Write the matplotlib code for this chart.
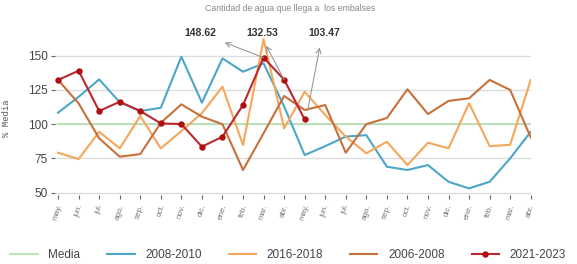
import matplotlib.pyplot as plt
from matplotlib.transforms import ScaledTranslation

plt.rcParams["font.family"] = ["Liberation Sans", "DejaVu Sans"]

# Data
months = ["may.", "jun.", "jul.", "ago.", "sep.", "oct.", "nov.", "dic.",
          "ene.", "feb.", "mar.", "abr."] * 2
media = [100] * 24
s0810 = [108.4, 120, 132.7, 116, 109.6, 112, 149.3, 115.7, 148, 138.3, 144.4, 113,
         77.5, 84, 91, 92, 69, 66.6, 70.2, 58, 53.2, 58, 75.1, 94.5]
s1618 = [79.2, 74.6, 94.5, 82.4, 106, 82.4, 95, 108, 127.4, 84.8, 162, 97,
         123.7, 106.7, 91, 78.8, 87.2, 70.2, 86.5, 82.4, 115.3, 84, 85, 132.3]
s0608 = [132.3, 115.2, 89.7, 76.3, 78.2, 101, 114.5, 105.5, 100, 66.6, 93.4, 120.6,
         110.4, 114, 79.2, 100.1, 104.5, 125.5, 107.4, 117, 118.9, 132.3, 125, 90.4]
s2123 = [132.3, 139, 109.6, 116.4, 109.6, 100.6, 100.1, 83.6, 90.9, 114,
         148.62, 132.53, 103.47]

# annotated points: index, (text offset px), (arrow start px), (arrow tip px)
notes = [(10, (-63, 25), (0, 0), (-39, 15)),
         (11, (-22, 47), (0, 0), (-18, 34)),
         (12, (20, 86), (3, 9), (15, 72))]

x = list(range(24))

fig = plt.figure(figsize=(5.77, 2.64), dpi=100)
ax = fig.add_axes([0.0953, 0.261, 0.8245, 0.606])

ax.plot(x, media, color="#b5e0b3", lw=1.3, label="Media")
ax.plot(x, s0810, color="#4ba6c8", lw=1.5, label="2008-2010")
ax.plot(x, s1618, color="#f5a65b", lw=1.5, label="2016-2018")
ax.plot(x, s0608, color="#c8703c", lw=1.5, label="2006-2008")
ax.plot(x[:len(s2123)], s2123, color="#b82a30", lw=1.5, marker="o", ms=3.6,
        mfc="#b00f12", mec="#b00f12", label="2021-2023")

ax.set_xlim(-0.15, 23)
ax.set_ylim(48.3, 165)
ax.set_yticks([50, 75, 100, 125, 150])
ax.set_xticks(x)
ax.set_xticklabels(months, rotation=72, fontsize=5.8, color="#777777",
                   ha="center", va="top")
ax.tick_params(axis="y", labelsize=8.5, labelcolor="#444444", color="#666666",
               length=3, width=0.8, pad=2)
ax.tick_params(axis="x", color="#666666", length=3, width=0.8, pad=3)
ax.grid(axis="y", color="#dddddd", lw=1)
ax.set_axisbelow(True)
for s in ax.spines.values():
    s.set_visible(False)

ax.set_ylabel("% Media", family="Liberation Mono", fontsize=6.5, color="#555555")
ax.yaxis.set_label_coords(-0.0925, 0.48)

fig.suptitle("Cantidad de agua que llega a  los embalses", fontsize=6.3,
             color="#888888", x=0.503, y=0.985, va="top")

# value labels with arrows
for i, toff, soff, hoff in notes:
    def shift(off):
        return ax.transData + ScaledTranslation(off[0] / 100, off[1] / 100,
                                                fig.dpi_scale_trans)
    ax.text(i, s2123[i], f"{s2123[i]:.2f}", transform=shift(toff),
            ha="center", va="center", fontsize=7.5, fontweight="bold",
            color="#333333")
    ax.annotate("", xy=(i, s2123[i]), xycoords=shift(hoff),
                xytext=(i, s2123[i]), textcoords=shift(soff),
                arrowprops=dict(arrowstyle="->,head_length=0.35,head_width=0.18",
                                color="#999999", lw=0.8, shrinkA=0, shrinkB=0))

fig.legend(loc="center left", bbox_to_anchor=(0.012, 0.035), ncol=5, frameon=False,
           fontsize=8.5, handlelength=2.3, handletextpad=0.9, columnspacing=2.3,
           borderaxespad=0, borderpad=0.3, labelcolor="#444444")

fig.savefig("out.png", dpi=100)
